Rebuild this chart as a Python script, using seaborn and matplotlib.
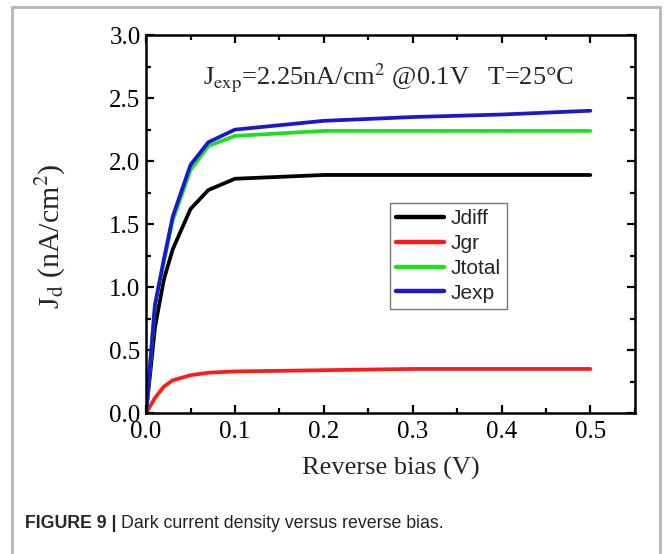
#!/usr/bin/env python3
"""Dark current density versus reverse bias (Figure 9 redraw)"""

import pandas as pd
import matplotlib
matplotlib.use("Agg")
import matplotlib.pyplot as plt
from matplotlib.patches import Rectangle
from matplotlib.ticker import MultipleLocator
import seaborn as sns

# Data
bias = [0.0, 0.01, 0.02, 0.03, 0.05, 0.07, 0.1, 0.2, 0.3, 0.4, 0.5]
j_diff = [0.0, 0.68, 1.06, 1.30, 1.62, 1.77, 1.86, 1.89, 1.89, 1.89, 1.89]
j_gr = [0.0, 0.12, 0.21, 0.26, 0.30, 0.32, 0.33, 0.34, 0.35, 0.35, 0.35]
j_total = [0.0, 0.85, 1.20, 1.53, 1.93, 2.12, 2.20, 2.24, 2.24, 2.24, 2.24]
j_exp = [0.0, 0.86, 1.22, 1.56, 1.97, 2.15, 2.25, 2.32, 2.35, 2.37, 2.40]
series = ["Jdiff", "Jgr", "Jtotal", "Jexp"]
colors = ["#000000", "#ff1a1a", "#1de01d", "#1a1acc"]

frames = []
for name, vals in zip(series, [j_diff, j_gr, j_total, j_exp]):
    frames.append(pd.DataFrame({"bias": bias, "J": vals, "series": name}))
df = pd.concat(frames, ignore_index=True)

sns.set_style("ticks")
plt.rcParams["font.family"] = ["Liberation Serif", "DejaVu Serif"]
plt.rcParams["mathtext.fontset"] = "stix"

fig = plt.figure(figsize=(6.64, 5.54), dpi=100)
ax = fig.add_axes([0.220, 0.2545, 0.736, 0.682])

sns.lineplot(data=df, x="bias", y="J", hue="series", hue_order=series,
             palette=colors, linewidth=2.7, ax=ax, sort=False)

ax.set_xlim(0, 0.55)
ax.set_ylim(0, 3.0)
ax.xaxis.set_major_locator(MultipleLocator(0.1))
ax.xaxis.set_minor_locator(MultipleLocator(0.05))
ax.yaxis.set_major_locator(MultipleLocator(0.5))
ax.yaxis.set_minor_locator(MultipleLocator(0.25))
ax.tick_params(which="both", direction="in", top=True, right=True,
               width=1.6, labelsize=18, colors="black")
ax.tick_params(which="major", length=6, pad=4)
ax.tick_params(which="minor", length=3.5)
ax.tick_params(axis="x", which="major", pad=6)
for sp in ax.spines.values():
    sp.set_visible(True)
    sp.set_linewidth(1.8)
    sp.set_color("black")

ax.set_xlabel("Reverse bias (V)", fontsize=19, labelpad=10)
ax.set_ylabel(r"J$_\mathrm{d}$ (nA/cm$^2$)", fontsize=21.5)
ax.yaxis.set_label_coords(-0.16, 0.468)

ax.text(0.495, 0.868,
        r"J$_\mathrm{exp}$=2.25nA/cm$^2$ @0.1V   T=25°C",
        transform=ax.transAxes, ha="center", va="baseline", fontsize=19)

leg = ax.legend(loc="upper left", bbox_to_anchor=(0.499, 0.556),
                borderaxespad=0, frameon=True, fancybox=False,
                handlelength=2.3, handletextpad=0.3, labelspacing=0.28,
                borderpad=0.3,
                prop={"family": "Liberation Sans", "size": 15})
leg.get_frame().set_edgecolor("#555555")
leg.get_frame().set_linewidth(1.0)
for line in leg.get_lines():
    line.set_linewidth(3.2)

# Outer grey border and caption
fig.patches.append(Rectangle((12 / 664, -0.02), 648 / 664, 1.02 - 7 / 554,
                             transform=fig.transFigure, fill=False,
                             edgecolor="#b5b5b5", linewidth=2.0))
cap1 = fig.text(25 / 664, 1 - 523 / 554, "FIGURE 9 | ", fontsize=12.8,
                family="Liberation Sans", fontweight="bold", va="center")
fig.canvas.draw()
bb = cap1.get_window_extent()
fig.text(bb.x1 / fig.bbox.width, 1 - 523 / 554,
         "Dark current density versus reverse bias.", fontsize=12.8,
         family="Liberation Sans", va="center", color="#222222")

fig.savefig("out.png", dpi=100)
